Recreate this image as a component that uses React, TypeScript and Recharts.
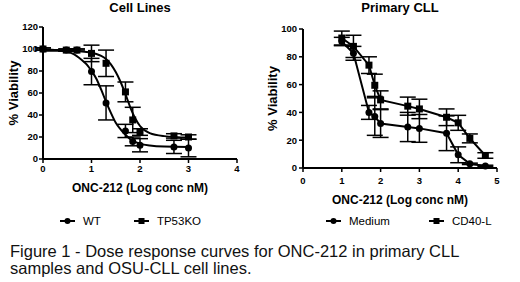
import { ComposedChart, ErrorBar, Line, Scatter, XAxis, YAxis } from "recharts";

// Cell lines: log10 dose (nM) vs % viability, mean ± SEM
const CELL_DOSES = [0, 0.48, 0.7, 1, 1.3, 1.7, 1.85, 2, 2.7, 3];
const WT_VIABILITY = [100, 99, 99, 79.5, 51, 25.5, 16, 12.5, 11, 10];
const WT_SEM = [1, 1, 1, 12, 15.5, 6, 4, 6, 6, 8];
const KO_VIABILITY = [100, 99, 99, 96, 87, 61, 35.5, 24.5, 21, 20];
const KO_SEM = [1, 1, 1, 7.5, 12, 9, 11.5, 3, 2, 2];

// fitted sigmoid curves
const FIT_DOSES = [0, 0.3, 0.5, 0.6, 0.8, 0.9, 1, 1.1, 1.2, 1.3, 1.4, 1.5, 1.6, 1.7, 1.8, 1.9, 2, 2.2, 2.5, 3];
const WT_FIT = [99.5, 99, 97.5, 96, 90, 86, 80, 73, 63, 52, 42, 33, 27, 22, 18, 15.5, 14, 12.3, 11.3, 11];
const KO_FIT = [98.5, 98.4, 98.3, 98.2, 97.8, 97.3, 96.5, 95.5, 93.8, 91, 86, 79, 70, 59, 47, 37, 30, 23.5, 20.8, 19.5];

// Primary CLL
const CLL_DOSES = [1, 1.3, 1.7, 1.85, 2, 2.7, 3, 3.7, 4, 4.3, 4.7];
const MEDIUM_VIABILITY = [91, 82.5, 40, 37, 32, 29.5, 28.5, 25, 9.5, 3, 1.5];
const MEDIUM_SEM = [3, 5, 5, 13.5, 10, 10.5, 10, 12.5, 5.7, 0.5, 0.5];
const CD40_VIABILITY = [93.5, 87.5, 74, 59.5, 49, 44.5, 42.5, 36.5, 32.5, 21.3, 9];
const CD40_SEM = [5, 8, 6, 8, 6.5, 6.5, 7, 6, 5.4, 3.2, 2];

const CELL_X_TICKS = [0, 1, 2, 3, 4];
const CELL_Y_TICKS = [0, 20, 40, 60, 80, 100, 120];
const CLL_X_TICKS = [0, 1, 2, 3, 4, 5];
const CLL_Y_TICKS = [0, 20, 40, 60, 80, 100];

const FONT = '"Liberation Sans", Arial, sans-serif';

const toPoints = (xs: number[], ys: number[], errs?: number[]) =>
  xs.map((x, i) => ({ x, y: ys[i], err: errs ? errs[i] : 0 }));

const wtPoints = toPoints(CELL_DOSES, WT_VIABILITY, WT_SEM);
const koPoints = toPoints(CELL_DOSES, KO_VIABILITY, KO_SEM);
const wtCurve = toPoints(FIT_DOSES, WT_FIT);
const koCurve = toPoints(FIT_DOSES, KO_FIT);
const mediumPoints = toPoints(CLL_DOSES, MEDIUM_VIABILITY, MEDIUM_SEM);
const cd40Points = toPoints(CLL_DOSES, CD40_VIABILITY, CD40_SEM);

const tickStyle = { fill: "#000", fontSize: 9.5, fontWeight: 700, fontFamily: FONT };
const axisLine = { stroke: "#000", strokeWidth: 2 };
const tickLine = { stroke: "#000", strokeWidth: 1.5 };

const Circle = (p: any) =>
  p.cx == null ? null : <circle cx={p.cx} cy={p.cy} r={3.5} fill="#000" />;
const Square = (p: any) =>
  p.cx == null ? null : <rect x={p.cx - 3.5} y={p.cy - 3.5} width={7} height={7} fill="#000" />;

function XTitle({ viewBox, text, dy }: any) {
  if (!viewBox) return null;
  return (
    <text
      x={viewBox.x + viewBox.width / 2}
      y={viewBox.y + dy}
      textAnchor="middle"
      dominantBaseline="central"
      fontFamily={FONT}
      fontWeight={700}
      fontSize={12}
      fill="#000"
    >
      {text}
    </text>
  );
}

function YTitle({ viewBox, text, dx }: any) {
  if (!viewBox) return null;
  const cx = viewBox.x + dx;
  const cy = viewBox.y + viewBox.height / 2;
  return (
    <text
      x={cx}
      y={cy}
      transform={`rotate(-90 ${cx} ${cy})`}
      textAnchor="middle"
      dominantBaseline="central"
      fontFamily={FONT}
      fontWeight={700}
      fontSize={13}
      fill="#000"
    >
      {text}
    </text>
  );
}

function LegendItem({ label, square }: { label: string; square?: boolean }) {
  return (
    <span style={{ display: "inline-flex", alignItems: "center", gap: 8 }}>
      <svg width={15} height={8}>
        <line x1={0} y1={4} x2={15} y2={4} stroke="#000" strokeWidth={2} />
        {square ? <rect x={4.5} y={1} width={6} height={6} fill="#000" /> : <circle cx={7.5} cy={4} r={3} fill="#000" />}
      </svg>
      <span>{label}</span>
    </span>
  );
}

const titleStyle: React.CSSProperties = {
  position: "absolute",
  fontFamily: FONT,
  fontWeight: 700,
  fontSize: 13,
  textAlign: "center",
  width: 200,
};

const legendStyle: React.CSSProperties = {
  position: "absolute",
  top: 214,
  fontFamily: FONT,
  fontSize: 11.5,
  display: "flex",
  lineHeight: "14px",
};

export default function App() {
  return (
    <div
      style={{
        position: "absolute",
        left: 0,
        top: 0,
        width: 520,
        height: 282,
        background: "#fff",
        overflow: "hidden",
      }}
    >
      <div style={{ ...titleStyle, left: 40, top: 0 }}>Cell Lines</div>
      <div style={{ ...titleStyle, left: 300, top: 0 }}>Primary CLL</div>

      <div style={{ position: "absolute", left: 0, top: 0 }}>
        <ComposedChart width={260} height={230} margin={{ top: 27, right: 23, bottom: 41, left: 0 }}>
          <XAxis
            dataKey="x"
            type="number"
            domain={[0, 4]}
            ticks={CELL_X_TICKS}
            height={30}
            tick={tickStyle}
            axisLine={axisLine}
            tickLine={tickLine}
            tickSize={4}
            tickMargin={2}
            label={{ content: (p: any) => <XTitle {...p} text="ONC-212 (Log conc nM)" dy={29} /> }}
          />
          <YAxis
            dataKey="y"
            type="number"
            domain={[0, 120]}
            ticks={CELL_Y_TICKS}
            width={43}
            tick={tickStyle}
            axisLine={axisLine}
            tickLine={tickLine}
            tickSize={4}
            tickMargin={1}
            label={{ content: (p: any) => <YTitle {...p} text="% Viability" dx={13} /> }}
          />
          <Line data={wtCurve} dataKey="y" type="monotone" dot={false} stroke="#000" strokeWidth={2} isAnimationActive={false} />
          <Line data={koCurve} dataKey="y" type="monotone" dot={false} stroke="#000" strokeWidth={2} isAnimationActive={false} />
          <Scatter data={wtPoints} dataKey="y" shape={Circle} isAnimationActive={false}>
            <ErrorBar dataKey="err" direction="y" width={8} stroke="#000" strokeWidth={1.5} />
          </Scatter>
          <Scatter data={koPoints} dataKey="y" shape={Square} isAnimationActive={false}>
            <ErrorBar dataKey="err" direction="y" width={8} stroke="#000" strokeWidth={1.5} />
          </Scatter>
        </ComposedChart>
      </div>

      <div style={{ position: "absolute", left: 260, top: 0 }}>
        <ComposedChart width={260} height={230} margin={{ top: 29, right: 23, bottom: 22, left: 0 }}>
          <XAxis
            dataKey="x"
            type="number"
            domain={[0, 5]}
            ticks={CLL_X_TICKS}
            height={40}
            tick={tickStyle}
            axisLine={axisLine}
            tickLine={tickLine}
            tickSize={4}
            tickMargin={5}
            label={{ content: (p: any) => <XTitle {...p} text="ONC-212 (Log conc nM)" dy={32} /> }}
          />
          <YAxis
            dataKey="y"
            type="number"
            domain={[0, 100]}
            ticks={CLL_Y_TICKS}
            width={43}
            tick={tickStyle}
            axisLine={axisLine}
            tickLine={tickLine}
            tickSize={4}
            tickMargin={2}
            label={{ content: (p: any) => <YTitle {...p} text="% Viability" dx={12} /> }}
          />
          <Line data={mediumPoints} dataKey="y" type="linear" stroke="#000" strokeWidth={2} dot={Circle} activeDot={false} isAnimationActive={false}>
            <ErrorBar dataKey="err" direction="y" width={8} stroke="#000" strokeWidth={1.5} />
          </Line>
          <Line data={cd40Points} dataKey="y" type="linear" stroke="#000" strokeWidth={2} dot={Square} activeDot={false} isAnimationActive={false}>
            <ErrorBar dataKey="err" direction="y" width={8} stroke="#000" strokeWidth={1.5} />
          </Line>
        </ComposedChart>
      </div>

      <div style={{ ...legendStyle, left: 60, gap: 33 }}>
        <LegendItem label="WT" />
        <LegendItem label="TP53KO" square />
      </div>
      <div style={{ ...legendStyle, left: 326, gap: 39 }}>
        <LegendItem label="Medium" />
        <LegendItem label="CD40-L" square />
      </div>

      <div
        style={{
          position: "absolute",
          left: 10,
          top: 243,
          fontFamily: FONT,
          fontSize: 16.5,
          lineHeight: "17px",
          color: "#111",
          whiteSpace: "nowrap",
        }}
      >
        Figure 1 - Dose response curves for ONC-212 in primary CLL
        <br />
        samples and OSU-CLL cell lines.
      </div>
    </div>
  );
}
